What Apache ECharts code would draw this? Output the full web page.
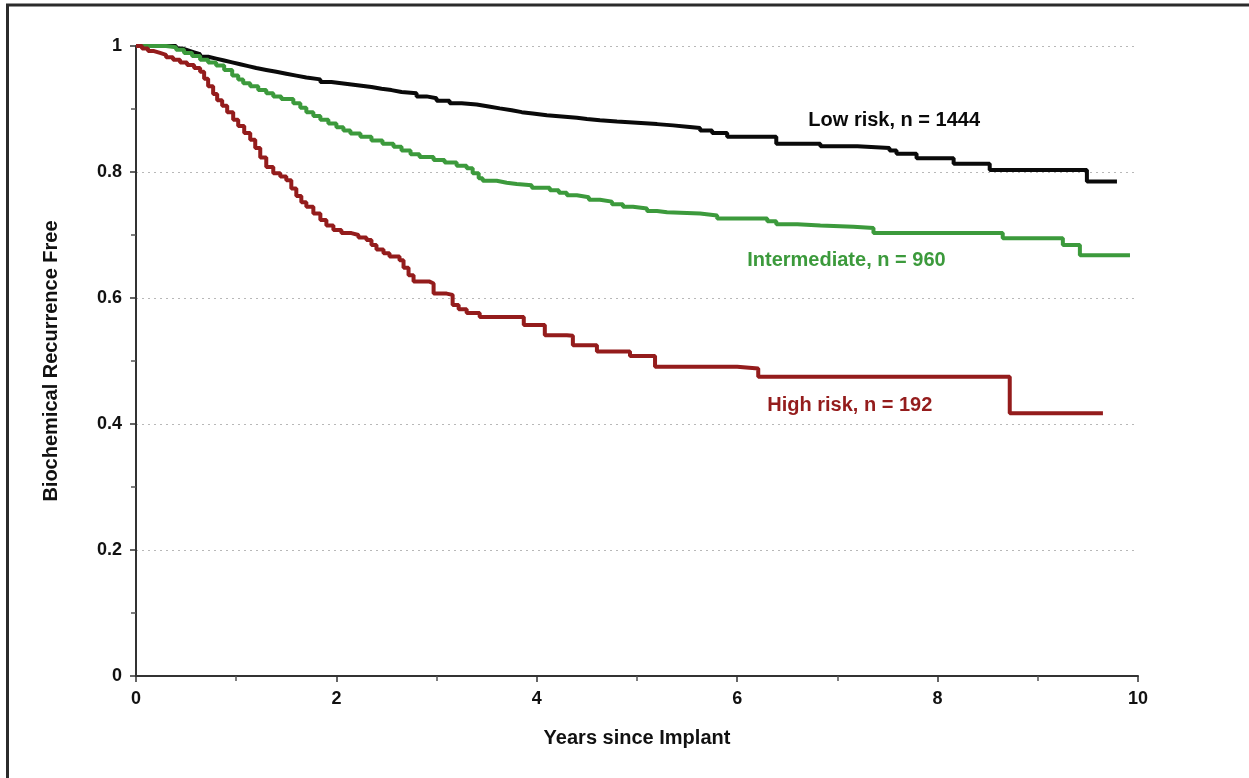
<!DOCTYPE html>
<html>
<head>
<meta charset="utf-8">
<script src="https://cdn.jsdelivr.net/npm/echarts@6/dist/echarts.min.js"></script>
<style>
  html, body { margin: 0; padding: 0; background: #fff; }
  #chart { width: 1249px; height: 778px; }
</style>
</head>
<body>
<div id="chart"></div>
<script>
// Kaplan-Meier style curves: [years, fraction free]
const lowRisk = [
  [0, 1], [0.34, 1], [0.4, 0.996], [0.46, 0.993], [0.52, 0.990], [0.58, 0.987],
  [0.64, 0.983], [0.72, 0.980], [0.8, 0.977], [0.88, 0.974], [0.96, 0.971],
  [1.04, 0.968], [1.12, 0.965], [1.2, 0.962], [1.3, 0.959], [1.4, 0.956],
  [1.5, 0.953], [1.6, 0.950], [1.7, 0.947], [1.84, 0.943], [1.95, 0.941],
  [2.05, 0.939], [2.15, 0.937], [2.25, 0.935], [2.35, 0.932], [2.45, 0.930],
  [2.55, 0.927], [2.65, 0.925], [2.8, 0.920], [2.9, 0.917], [3.0, 0.913],
  [3.13, 0.909], [3.25, 0.907], [3.4, 0.904], [3.52, 0.901], [3.63, 0.898],
  [3.75, 0.895], [3.85, 0.893], [3.96, 0.890], [4.1, 0.888], [4.25, 0.886],
  [4.4, 0.884], [4.5, 0.882], [4.63, 0.880], [4.8, 0.878], [5.0, 0.876],
  [5.2, 0.874], [5.36, 0.872], [5.5, 0.870], [5.63, 0.866], [5.75, 0.862],
  [5.9, 0.856], [6.39, 0.845], [6.83, 0.841], [7.2, 0.838], [7.52, 0.834],
  [7.59, 0.829], [7.79, 0.822], [8.16, 0.813], [8.52, 0.803], [9.49, 0.785],
  [9.79, 0.785]
];
const intermediate = [
  [0, 1], [0.2, 1], [0.3, 0.998], [0.4, 0.994], [0.48, 0.989], [0.56, 0.984],
  [0.64, 0.978], [0.72, 0.974], [0.8, 0.969], [0.88, 0.962], [0.96, 0.953],
  [1.02, 0.947], [1.07, 0.941], [1.14, 0.936], [1.22, 0.930], [1.3, 0.925],
  [1.37, 0.920], [1.45, 0.916], [1.57, 0.909], [1.64, 0.902], [1.7, 0.895],
  [1.77, 0.889], [1.84, 0.883], [1.92, 0.877], [2.0, 0.871], [2.07, 0.866],
  [2.14, 0.861], [2.24, 0.856], [2.35, 0.850], [2.46, 0.845], [2.57, 0.840],
  [2.65, 0.834], [2.74, 0.828], [2.83, 0.824], [2.97, 0.819], [3.08, 0.815],
  [3.2, 0.810], [3.3, 0.806], [3.36, 0.798], [3.42, 0.790], [3.46, 0.786],
  [3.6, 0.783], [3.7, 0.781], [3.8, 0.779], [3.95, 0.775], [4.13, 0.771],
  [4.22, 0.767], [4.3, 0.763], [4.4, 0.760], [4.52, 0.756], [4.63, 0.753],
  [4.75, 0.749], [4.86, 0.745], [4.96, 0.742], [5.1, 0.738], [5.2, 0.736],
  [5.3, 0.734], [5.63, 0.731], [5.8, 0.726], [6.3, 0.722], [6.39, 0.717],
  [6.6, 0.715], [6.83, 0.713], [7.16, 0.711], [7.36, 0.703], [8.65, 0.695],
  [9.25, 0.684], [9.42, 0.668], [9.92, 0.668]
];
const highRisk = [
  [0, 1], [0.06, 0.996], [0.12, 0.992], [0.18, 0.989], [0.24, 0.986], [0.3, 0.982],
  [0.37, 0.978], [0.44, 0.974], [0.51, 0.970], [0.58, 0.965], [0.64, 0.959],
  [0.68, 0.948], [0.72, 0.936], [0.77, 0.924], [0.81, 0.914], [0.86, 0.905],
  [0.91, 0.895], [0.97, 0.883], [1.02, 0.873], [1.08, 0.862], [1.14, 0.851],
  [1.19, 0.838], [1.24, 0.823], [1.3, 0.808], [1.37, 0.798], [1.44, 0.793],
  [1.5, 0.787], [1.55, 0.774], [1.6, 0.762], [1.65, 0.752], [1.7, 0.745],
  [1.77, 0.734], [1.84, 0.724], [1.9, 0.715], [1.97, 0.708], [2.05, 0.703],
  [2.15, 0.700], [2.22, 0.696], [2.3, 0.692], [2.35, 0.684], [2.4, 0.677],
  [2.47, 0.671], [2.53, 0.666], [2.63, 0.660], [2.67, 0.648], [2.72, 0.636],
  [2.77, 0.626], [2.93, 0.623], [2.97, 0.607], [3.1, 0.605], [3.16, 0.589],
  [3.22, 0.582], [3.3, 0.576], [3.43, 0.570], [3.87, 0.557], [4.08, 0.541],
  [4.3, 0.540], [4.36, 0.525], [4.6, 0.515], [4.93, 0.508], [5.18, 0.491],
  [6.0, 0.488], [6.21, 0.475], [8.72, 0.417], [9.65, 0.417]
];
const seriesNames = ['Low risk, n = 1444', 'Intermediate, n = 960', 'High risk, n = 192'];

const FONT = '"Liberation Sans", Arial, sans-serif';

const makeSeries = (name, data, color, labelAt) => ({
  name: name,
  type: 'line',
  step: 'end',
  data: data,
  showSymbol: false,
  lineStyle: { color: color, width: 4 },
  itemStyle: { color: color },
  markPoint: {
    symbol: 'circle',
    symbolSize: 0,
    silent: true,
    label: {
      show: true,
      position: 'right',
      distance: 0,
      formatter: name,
      color: color,
      fontFamily: FONT,
      fontWeight: 'bold',
      fontSize: 20
    },
    data: [{ coord: labelAt }]
  }
});

const chart = echarts.init(document.getElementById('chart'));
chart.setOption({
  backgroundColor: '#fff',
  animation: false,
  grid: { left: 136, top: 46, right: 111, bottom: 102 },
  graphic: [
    { type: 'line', shape: { x1: 6, y1: 5, x2: 1249, y2: 5 }, style: { stroke: '#2b2b2b', lineWidth: 3 } },
    { type: 'line', shape: { x1: 7.5, y1: 4, x2: 7.5, y2: 778 }, style: { stroke: '#2b2b2b', lineWidth: 3 } }
  ],
  xAxis: {
    type: 'value',
    min: 0,
    max: 10,
    interval: 2,
    name: 'Years since Implant',
    nameLocation: 'middle',
    nameGap: 52,
    nameTextStyle: { fontFamily: FONT, fontWeight: 'bold', fontSize: 20, color: '#111' },
    axisLine: { show: true, lineStyle: { color: '#333', width: 2 } },
    axisTick: { show: true, length: 6, lineStyle: { color: '#333', width: 1.5 } },
    minorTick: { show: true, splitNumber: 2, length: 5, lineStyle: { color: '#555', width: 1.5 } },
    axisLabel: { margin: 14, fontFamily: FONT, fontWeight: 'bold', fontSize: 18, color: '#111' },
    splitLine: { show: false }
  },
  yAxis: {
    type: 'value',
    min: 0,
    max: 1,
    interval: 0.2,
    name: 'Biochemical Recurrence Free',
    nameLocation: 'middle',
    nameGap: 75,
    nameTextStyle: { fontFamily: FONT, fontWeight: 'bold', fontSize: 20, color: '#111' },
    axisLine: { show: true, lineStyle: { color: '#333', width: 2 } },
    axisTick: { show: true, length: 6, lineStyle: { color: '#333', width: 1.5 } },
    minorTick: { show: true, splitNumber: 2, length: 5, lineStyle: { color: '#555', width: 1.5 } },
    axisLabel: { margin: 14, fontFamily: FONT, fontWeight: 'bold', fontSize: 18, color: '#111' },
    splitLine: { show: true, lineStyle: { color: '#b8b8b8', type: [2, 4], width: 1.2 } }
  },
  series: [
    makeSeries(seriesNames[0], lowRisk, '#0a0a0a', [6.71, 0.8825]),
    makeSeries(seriesNames[1], intermediate, '#3c9a3c', [6.10, 0.659]),
    makeSeries(seriesNames[2], highRisk, '#941c1c', [6.30, 0.430])
  ]
});
</script>
</body>
</html>
